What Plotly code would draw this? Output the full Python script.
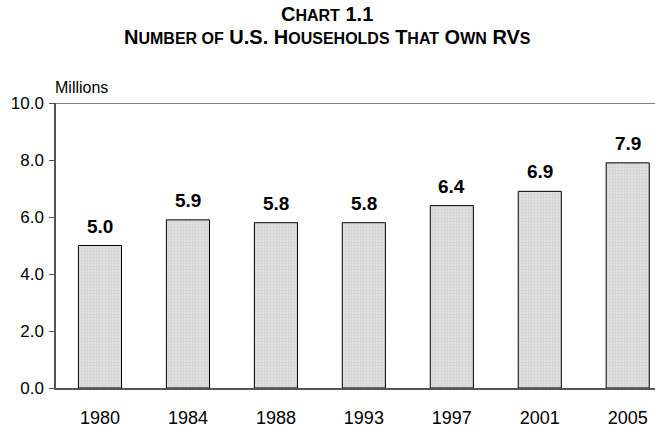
import plotly.graph_objects as go

years = ["1980", "1984", "1988", "1993", "1997", "2001", "2005"]
households = [5.0, 5.9, 5.8, 5.8, 6.4, 6.9, 7.9]
y_ticks = [0, 2, 4, 6, 8, 10]
y_tick_labels = ["0.0", "2.0", "4.0", "6.0", "8.0", "10.0"]

FONT = "Liberation Sans, Arial, sans-serif"

fig = go.Figure()
fig.add_trace(go.Bar(
    x=years, y=households, width=0.49,
    marker=dict(color="#d9d9d9", line=dict(color="#000000", width=1),
                pattern=dict(shape=".", fgcolor="#bdbdbd", bgcolor="#e0e0e0", size=3, solidity=0.4)),
    hoverinfo="skip",
))
for i, v in enumerate(households):
    fig.add_annotation(x=i, y=v, text=f"<b>{v:.1f}</b>", showarrow=False,
                       yanchor="bottom", yshift=7,
                       font=dict(family=FONT, size=19, color="#000"))

fig.add_shape(type="line", xref="paper", yref="y", x0=0, x1=1, y0=10, y1=10,
              line=dict(color="#555", width=1.5))

fig.add_annotation(xref="paper", yref="paper", x=-0.005, y=1.0, yshift=5,
                   text="Millions", showarrow=False, xanchor="left", yanchor="bottom",
                   font=dict(family=FONT, size=16, color="#000"))

B, S = 20, 16
line1 = (f"<b><span style='font-size:{B}px'>C</span><span style='font-size:{S}px'>HART</span> 1.1</b>")
line2 = (f"<b>N<span style='font-size:{S}px'>UMBER OF</span> U.S. "
         f"H<span style='font-size:{S}px'>OUSEHOLDS</span> "
         f"T<span style='font-size:{S}px'>HAT</span> "
         f"O<span style='font-size:{S}px'>WN</span> RV<span style='font-size:{S}px'>S</span></b>")
# plot area spans y=103..388 px (285 px)
fig.add_annotation(xref="paper", yref="paper", x=(327 - 56) / 599, y=(388 - 14) / 285,
                   text=line1, showarrow=False, xanchor="center", yanchor="middle",
                   font=dict(family=FONT, size=B, color="#000"))
fig.add_annotation(xref="paper", yref="paper", x=(327 - 56) / 599, y=(388 - 37) / 285,
                   text=line2, showarrow=False, xanchor="center", yanchor="middle",
                   font=dict(family=FONT, size=B, color="#000"))

fig.update_layout(
    width=655, height=427,
    margin=dict(l=56, r=0, t=103, b=39, autoexpand=False),
    paper_bgcolor="white", plot_bgcolor="white",
    showlegend=False,
    font=dict(family=FONT, size=17, color="#000"),
    xaxis=dict(type="category", range=[-0.5, 6.31], showline=True, linecolor="#555", linewidth=1.5,
               ticks="", showgrid=False, tickfont=dict(size=18), ticklabelstandoff=13,
               automargin=False),
    yaxis=dict(range=[0, 10], tickvals=y_ticks, ticktext=y_tick_labels,
               showline=True, linecolor="#555", linewidth=1.5,
               ticks="outside", ticklen=5, tickcolor="#555", showgrid=False,
               zeroline=False, tickfont=dict(size=17), ticklabelstandoff=2,
               automargin=False),
)
fig.write_html("out.html", config={"displayModeBar": False},
               post_script="document.body.style.margin='0';document.body.style.overflow='hidden';")
